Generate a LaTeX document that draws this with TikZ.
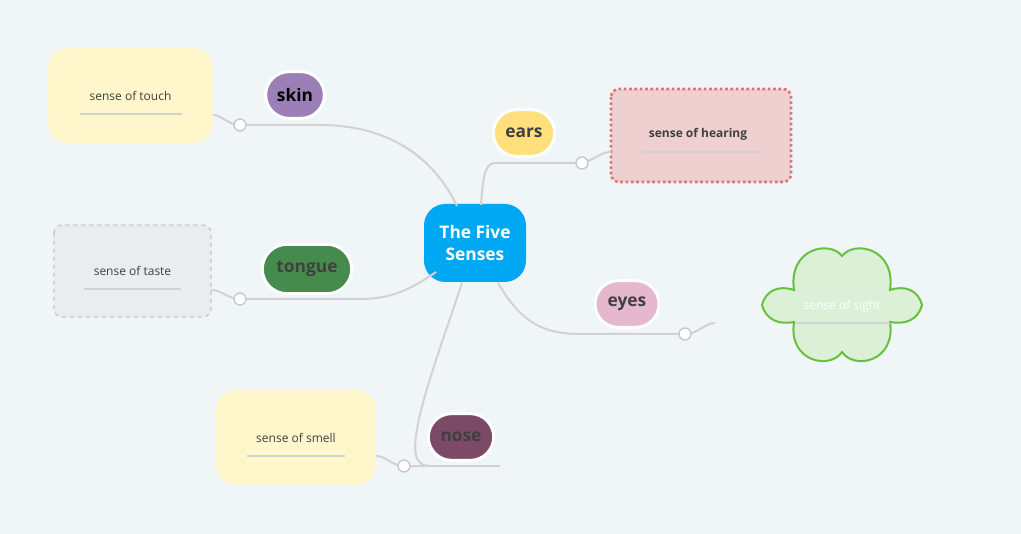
\documentclass[tikz,border=0pt]{standalone}
\usepackage{fontspec}
\usetikzlibrary{shapes.misc}
\setmainfont{Open Sans}
\begin{document}
\begin{tikzpicture}[x=0.75pt,y=-0.75pt,
 pill/.style={rounded rectangle,draw=white,line width=2.2pt,font=\bfseries\fontsize{13}{15}\selectfont,text=black!75,inner sep=0pt},
 box/.style={rounded corners=#1,inner sep=0pt},
 lbl/.style={font=\fontsize{9}{11}\selectfont,text=black!75},
 con/.style={draw=gray!35,line width=1.5pt},
 knob/.style={circle,draw=gray!45,fill=white,line width=1pt,minimum size=9pt,inner sep=0pt},
 uline/.style={draw=gray!35,line width=1pt}]
\definecolor{bg}{HTML}{F0F5F8}
\definecolor{ylw}{HTML}{FFF6CC}
\definecolor{tst}{HTML}{E9EDF0}
\definecolor{hr}{HTML}{EED0D0}
\definecolor{hrd}{HTML}{E07575}
\definecolor{cl}{HTML}{DCF0D8}
\definecolor{cld}{HTML}{66C23A}
\fill[bg] (0,0) rectangle (1021,534);
\useasboundingbox (0,0) rectangle (1021,534);
% boxes
\fill[ylw,rounded corners=15pt] (48,48) rectangle (213,143);
\node[lbl] (touch) at (130.5,96) {sense of touch};
\draw[uline] (80,114) -- (182,114);
\draw[rounded corners=6pt,fill=tst,draw=gray!45,dashed,line width=1pt] (54,225) rectangle (211,317);
\node[lbl] (taste) at (132.5,271) {sense of taste};
\draw[uline] (84,289) -- (181,289);
\draw[rounded corners=6pt,fill=hr,draw=hrd,dotted,line width=2pt] (611,89) rectangle (791,182);
\node[lbl,font=\bfseries\fontsize{9}{11}\selectfont] (hear) at (698,134) {sense of hearing};
\draw[uline] (641,152) -- (760,152);
\fill[ylw,rounded corners=15pt] (216,390) rectangle (376,485);
\node[lbl] (smell) at (296,438) {sense of smell};
\draw[uline] (247,456) -- (345,456);
% cloud
\draw[fill=cl,draw=cld,line width=1.5pt]
 (794,290) .. controls (788,248) and (830,240) .. (842,256)
 .. controls (854,240) and (896,248) .. (890,290)
 .. controls (905,285) and (918,290) .. (922,305)
 .. controls (918,320) and (905,325) .. (890,322)
 .. controls (896,362) and (854,370) .. (842,352)
 .. controls (830,370) and (788,362) .. (794,322)
 .. controls (779,325) and (766,320) .. (762,305)
 .. controls (766,290) and (779,285) .. (794,290) -- cycle;
\draw[uline] (795,323) -- (890,323);
\node[lbl,text=white] (sight) at (842,306) {sense of sight};
% center
\node[box=16pt,fill={rgb,255:red,0;green,168;blue,243},minimum width=76.5pt,minimum height=58.5pt,align=center,text=white,font=\bfseries\fontsize{13}{17}\selectfont] (c) at (475,243) {The Five\\Senses};
% connectors
\coordinate (k1) at (240,125);
\draw[con] (457,206) .. controls (430,150) and (380,125) .. (320,125) -- (k1) .. controls (228,125) and (222,115) .. (213,115);
\coordinate (k2) at (582,163);
\draw[con] (481,205) .. controls (483,180) and (484,163) .. (495,163) -- (k2) .. controls (595,160) and (600,152) .. (611,152);
\coordinate (k3) at (240,299);
\draw[con] (436,272) .. controls (410,290) and (390,299) .. (360,299) -- (k3) .. controls (228,299) and (222,290) .. (211,290);
\coordinate (k4) at (685,334);
\draw[con] (498,283) .. controls (520,320) and (540,334) .. (580,334) -- (k4) .. controls (698,334) and (705,323) .. (715,323);
\coordinate (k5) at (404,466);
\draw[con] (462,283) .. controls (440,350) and (405,440) .. (418,460) .. controls (421,465) and (425,466) .. (432,466) -- (500,466);
\draw[con] (425,466) -- (k5) .. controls (392,466) and (386,456) .. (376,456);
\foreach \k in {k1,k2,k3,k4,k5} \node[knob] at (\k) {};
% pills
\node[pill,fill={rgb,255:red,155;green,127;blue,182},text=black,minimum width=44pt,minimum height=35pt] (skin) at (295,95) {skin};
\node[pill,fill={rgb,255:red,255;green,224;blue,125},minimum width=46pt,minimum height=35pt] (ears) at (524,133) {ears};
\node[pill,fill={rgb,255:red,69;green,139;blue,77},minimum width=67pt,minimum height=37pt] (tongue) at (307,269) {tongue};
\node[pill,fill={rgb,255:red,230;green,184;blue,208},minimum width=48pt,minimum height=35pt] (eyes) at (627,304) {eyes};
\node[pill,fill={rgb,255:red,124;green,74;blue,102},minimum width=49pt,minimum height=35pt] (nose) at (461,437) {nose};
\end{tikzpicture}
\end{document}
